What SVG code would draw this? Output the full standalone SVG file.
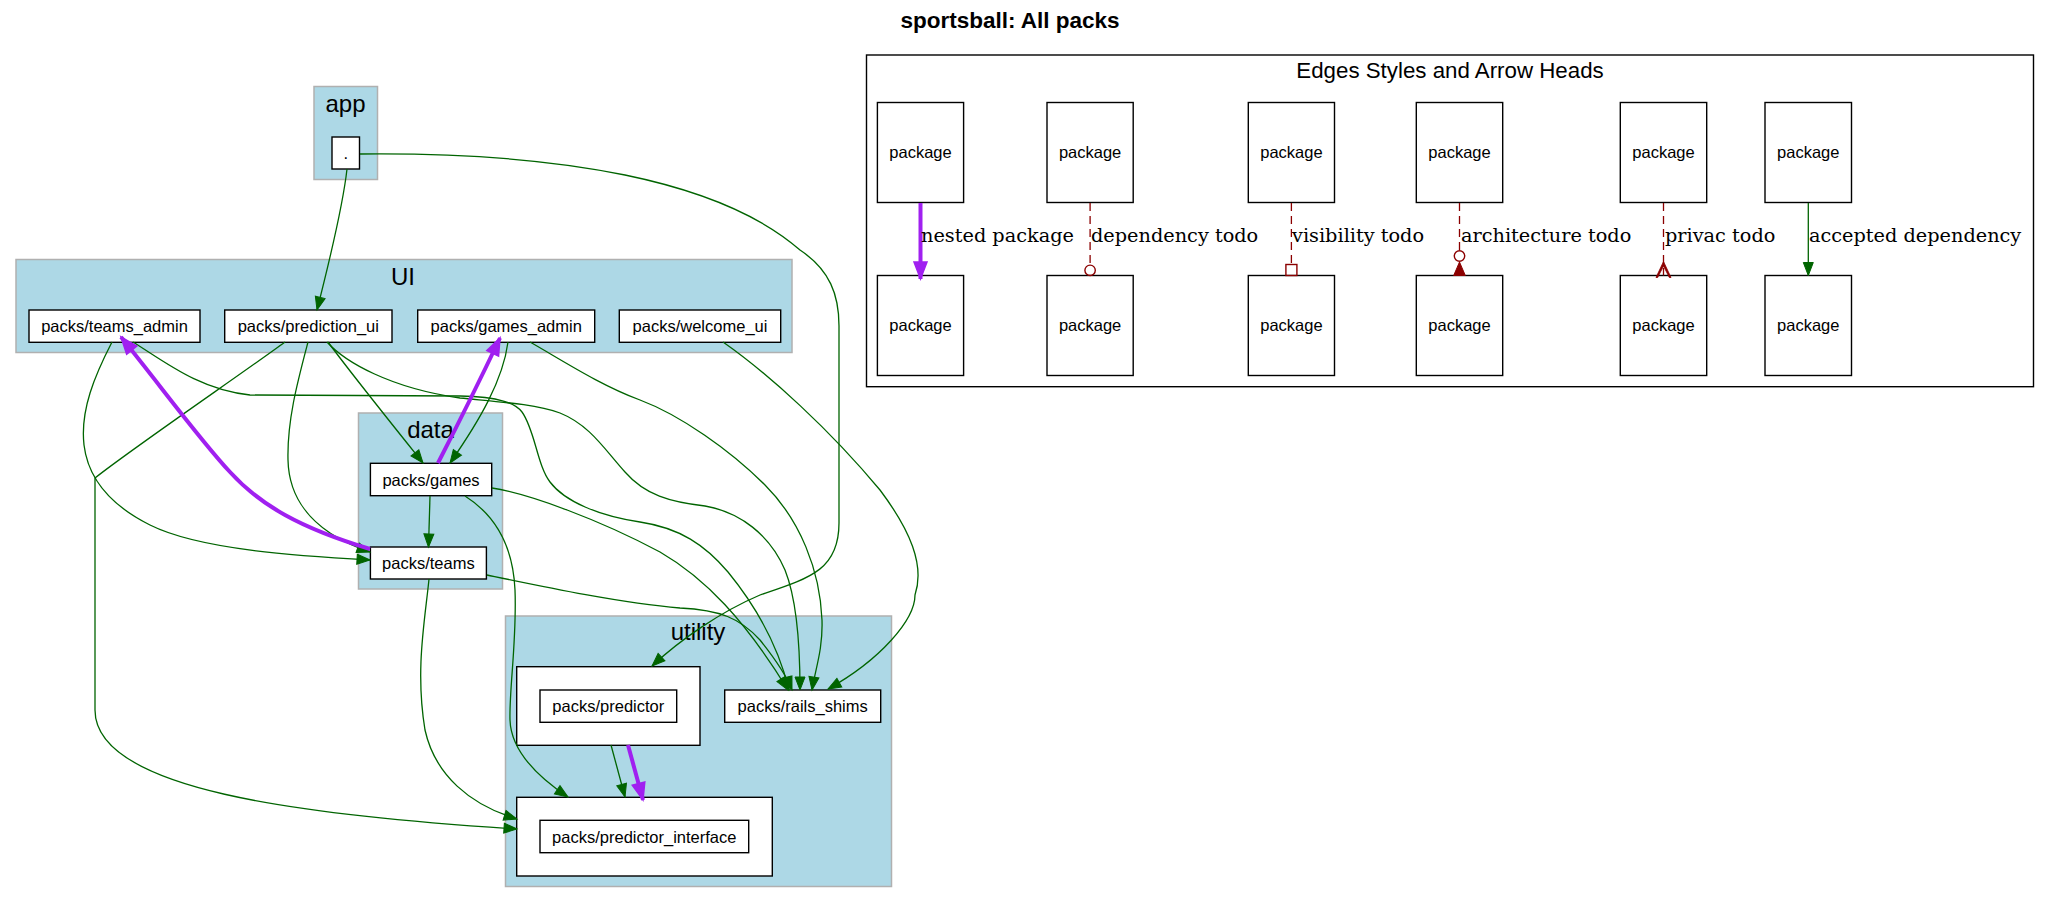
<svg xmlns="http://www.w3.org/2000/svg" width="2050" height="903" viewBox="0 0 2050 903">
<style>
  .cl { fill: #add8e6; stroke: #b0b0b0; stroke-width: 1.5; }
  .box { fill: #ffffff; stroke: #000000; stroke-width: 1.4; }
  .lab { font-family: "Liberation Sans", Arial, sans-serif; font-size: 16.5px; fill: #000; text-anchor: middle; }
  .clab { font-family: "Liberation Sans", Arial, sans-serif; font-size: 24px; fill: #000; text-anchor: middle; }
  .title { font-family: "Liberation Sans", Arial, sans-serif; font-size: 22.5px; font-weight: bold; fill: #000; text-anchor: middle; }
  .elab { font-family: "DejaVu Serif", "Liberation Serif", serif; font-size: 19.3px; fill: #000; }
  .g { fill: none; stroke: #006400; stroke-width: 1.3; marker-end: url(#ag); }
  .p { fill: none; stroke: #a020f0; stroke-width: 4; marker-end: url(#ap); }
  .d { fill: none; stroke: #8b0000; stroke-width: 1.3; stroke-dasharray: 8,5; }
  .dr { fill: none; stroke: #8b0000; stroke-width: 1.4; }
</style>
<defs>
  <marker id="ag" markerUnits="userSpaceOnUse" markerWidth="16" markerHeight="14" refX="13" refY="5" orient="auto" overflow="visible">
    <path d="M0,0 L13,5 L0,10 Z" fill="#006400" stroke="#006400" stroke-width="1"/>
  </marker>
  <marker id="ap" markerUnits="userSpaceOnUse" markerWidth="22" markerHeight="18" refX="17" refY="6.5" orient="auto" overflow="visible">
    <path d="M0,0 L17,6.5 L0,13 Z" fill="#a020f0" stroke="#a020f0" stroke-width="1.5"/>
  </marker>
</defs>
<rect width="2050" height="903" fill="#ffffff"/>
<text class="title" x="1010" y="28">sportsball: All packs</text>

<!-- clusters -->
<g id="cluster_app">
  <rect class="cl" x="314" y="86.5" width="63.5" height="93"/>
  <text class="clab" x="345.5" y="112">app</text>
</g>
<g id="cluster_UI">
  <rect class="cl" x="16" y="259.5" width="776" height="93"/>
  <text class="clab" x="403" y="285">UI</text>
</g>
<g id="cluster_data">
  <rect class="cl" x="358.5" y="413" width="144" height="176"/>
  <text class="clab" x="430.5" y="438">data</text>
</g>
<g id="cluster_utility">
  <rect class="cl" x="505.5" y="616" width="386" height="270.5"/>
  <text class="clab" x="698" y="640">utility</text>
</g>

<!-- nodes -->
<g id="node_app_root">
  <rect class="box" x="332" y="137" width="27.5" height="32"/>
  <text class="lab" x="345.8" y="159">.</text>
</g>
<g id="node_teams_admin">
  <rect class="box" x="29" y="310" width="171" height="32.3"/>
  <text class="lab" x="114.5" y="332">packs/teams_admin</text>
</g>
<g id="node_prediction_ui">
  <rect class="box" x="224.7" y="310" width="167.3" height="32.3"/>
  <text class="lab" x="308.3" y="332">packs/prediction_ui</text>
</g>
<g id="node_games_admin">
  <rect class="box" x="417.7" y="310" width="177" height="32.3"/>
  <text class="lab" x="506.2" y="332">packs/games_admin</text>
</g>
<g id="node_welcome_ui">
  <rect class="box" x="619.3" y="310" width="161.4" height="32.3"/>
  <text class="lab" x="700" y="332">packs/welcome_ui</text>
</g>
<g id="node_games">
  <rect class="box" x="370.4" y="463.3" width="121.3" height="32.4"/>
  <text class="lab" x="431" y="485.5">packs/games</text>
</g>
<g id="node_teams">
  <rect class="box" x="370.4" y="547" width="116" height="32"/>
  <text class="lab" x="428.4" y="569">packs/teams</text>
</g>
<g id="node_predictor">
  <rect class="box" x="516.7" y="666.7" width="183.3" height="78.6"/>
  <rect class="box" x="540" y="690" width="136.7" height="32.3"/>
  <text class="lab" x="608.3" y="712">packs/predictor</text>
</g>
<g id="node_rails_shims">
  <rect class="box" x="724.7" y="690" width="156" height="32.3"/>
  <text class="lab" x="802.7" y="712">packs/rails_shims</text>
</g>
<g id="node_predictor_interface">
  <rect class="box" x="516.7" y="797.3" width="255.6" height="78.7"/>
  <rect class="box" x="540" y="820.3" width="208.7" height="32.4"/>
  <text class="lab" x="644.3" y="842.5">packs/predictor_interface</text>
</g>

<!-- connectors -->
<g id="connectors">
  <path class="g" d="M347,169 C343,205 331,255 317,310"/>
  <path class="g" d="M360,154 C560,152 720,180 800,250 C830,270 839,295 839,326 L839,523 C839,570 810,578 760,595 C720,612 680,640 652,666"/>
  <path class="g" d="M112,342 C95,375 80,410 84,445 C88,478 110,505 150,525 C200,550 300,556 370,560"/>
  <path class="g" d="M133,342 C165,362 200,390 250,395 L460,396 C500,397 515,403 522,412 C535,430 537,465 550,482 C565,502 600,516 640,522 C680,528 705,545 728,572 C755,605 778,645 789,690"/>
  <path class="g" d="M328,342 C350,372 395,428 423,463"/>
  <path class="g" d="M308,342 C298,380 287,420 288,460 C289,505 320,535 370,552"/>
  <path class="g" d="M285,342 C250,368 130,450 95,478 L95,710 C95,790 300,815 517,829"/>
  <path class="g" d="M327,342 C345,362 390,388 460,398 C500,402 535,404 560,413 C590,425 605,450 625,472 C645,495 670,502 705,506 C740,512 770,535 785,570 C797,600 800,650 800,690"/>
  <path class="g" d="M508,342 C503,380 480,420 450,463"/>
  <path class="g" d="M530,342 C565,362 600,385 640,400 C680,415 730,450 765,485 C800,520 820,570 822,620 C823,650 815,670 812,690"/>
  <path class="g" d="M723,342 C770,375 830,430 880,490 C910,530 925,565 915,595 C915,620 880,660 828,689"/>
  <path class="g" d="M430,496 L428.5,547"/>
  <path class="g" d="M492,488 C530,494 600,520 660,552 C705,578 745,620 788,690"/>
  <path class="g" d="M465,496 C495,515 513,545 515,590 C517,640 509,690 510,720 C511,750 535,775 568,797"/>
  <path class="g" d="M487,575 C540,586 620,603 680,608 C720,610 740,618 760,640 C772,655 785,672 792,690"/>
  <path class="g" d="M429,579 C425,620 415,670 425,730 C435,775 470,805 517,819"/>
  <path class="g" d="M611,745 L625,797"/>
  <path class="p" d="M370,549 C300,528 260,505 230,472 C200,440 160,385 121,337"/>
  <path class="p" d="M438,463 C455,430 480,380 500,338"/>
  <path class="p" d="M628,745 L643,800"/>
</g>

<!-- legend -->
<g id="legend">
  <rect x="866.5" y="55" width="1167" height="331.7" fill="none" stroke="#000" stroke-width="1.4"/>
  <text class="clab" x="1450" y="78" style="font-size:22.3px">Edges Styles and Arrow Heads</text>
</g>
<g id="legend_nodes">
  <g id="lg_a1"><rect class="box" x="877.4" y="102.5" width="86.2" height="100"/><text class="lab" x="920.5" y="158">package</text></g>
  <g id="lg_a2"><rect class="box" x="877.4" y="275.5" width="86.2" height="100"/><text class="lab" x="920.5" y="331">package</text></g>
  <g id="lg_b1"><rect class="box" x="1047" y="102.5" width="86.2" height="100"/><text class="lab" x="1090.1" y="158">package</text></g>
  <g id="lg_b2"><rect class="box" x="1047" y="275.5" width="86.2" height="100"/><text class="lab" x="1090.1" y="331">package</text></g>
  <g id="lg_c1"><rect class="box" x="1248.3" y="102.5" width="86.2" height="100"/><text class="lab" x="1291.4" y="158">package</text></g>
  <g id="lg_c2"><rect class="box" x="1248.3" y="275.5" width="86.2" height="100"/><text class="lab" x="1291.4" y="331">package</text></g>
  <g id="lg_d1"><rect class="box" x="1416.3" y="102.5" width="86.4" height="100"/><text class="lab" x="1459.5" y="158">package</text></g>
  <g id="lg_d2"><rect class="box" x="1416.3" y="275.5" width="86.4" height="100"/><text class="lab" x="1459.5" y="331">package</text></g>
  <g id="lg_e1"><rect class="box" x="1620.3" y="102.5" width="86.4" height="100"/><text class="lab" x="1663.5" y="158">package</text></g>
  <g id="lg_e2"><rect class="box" x="1620.3" y="275.5" width="86.4" height="100"/><text class="lab" x="1663.5" y="331">package</text></g>
  <g id="lg_f1"><rect class="box" x="1765" y="102.5" width="86.5" height="100"/><text class="lab" x="1808.3" y="158">package</text></g>
  <g id="lg_f2"><rect class="box" x="1765" y="275.5" width="86.5" height="100"/><text class="lab" x="1808.3" y="331">package</text></g>
</g>
<g id="legend_connectors">
  <path class="p" d="M920.5,203 L920.5,279"/>
  <path class="d" d="M1090.1,203 L1090.1,265"/>
  <circle cx="1090.1" cy="270.3" r="5.2" fill="#fff" class="dr"/>
  <path class="d" d="M1291.4,203 L1291.4,264.5"/>
  <rect x="1285.9" y="264.5" width="11" height="11" fill="#fff" class="dr"/>
  <path class="d" d="M1459.5,203 L1459.5,250.5"/>
  <circle cx="1459.5" cy="256" r="5.2" fill="#fff" class="dr"/>
  <path d="M1459.5,262 L1465.3,275.5 L1453.7,275.5 Z" fill="#8b0000" stroke="#8b0000" stroke-width="1"/>
  <path class="d" d="M1663.5,203 L1663.5,275.5"/>
  <path d="M1656,277.5 L1663.5,261.5 L1671,277.5 L1669.3,277.5 L1663.5,266 L1657.7,277.5 Z" fill="#8b0000" stroke="#8b0000" stroke-width="0.8"/>
  <path class="g" d="M1808.3,203 L1808.3,275.5"/>
  <text class="elab" x="921" y="242">nested package</text>
  <text class="elab" x="1091" y="242">dependency todo</text>
  <text class="elab" x="1292" y="242">visibility todo</text>
  <text class="elab" x="1461" y="242">architecture todo</text>
  <text class="elab" x="1665" y="242">privac todo</text>
  <text class="elab" x="1809" y="242">accepted dependency</text>
</g>
</svg>
